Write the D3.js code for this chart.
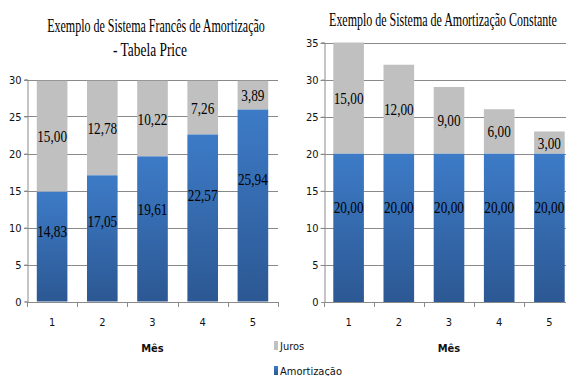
<!DOCTYPE html>
<html>
<head>
<meta charset="utf-8">
<script src="https://cdn.jsdelivr.net/npm/d3@7"></script>
<style>
  html, body { margin: 0; padding: 0; background: #fff; }
  svg { display: block; }
</style>
</head>
<body>
<svg id="chart" width="566" height="376"></svg>
<script>
// Meses (parcelas) e componentes de cada prestação
const meses = ["1", "2", "3", "4", "5"];

// Sistema Francês (Tabela Price)
const priceAmortizacao = [14.83, 17.05, 19.61, 22.57, 25.94];
const priceJuros = [15.00, 12.78, 10.22, 7.26, 3.89];

// Sistema de Amortização Constante (SAC)
const sacAmortizacao = [20.00, 20.00, 20.00, 20.00, 20.00];
const sacJuros = [15.00, 12.00, 9.00, 6.00, 3.00];

const priceTicks = [0, 5, 10, 15, 20, 25, 30];
const sacTicks = [0, 5, 10, 15, 20, 25, 30, 35];

const seriesNames = ["Juros", "Amortização"];

const svg = d3.select("#chart");
const fmt = v => d3.format(".2f")(v).replace(".", ",");

const defs = svg.append("defs");
const grad = defs.append("linearGradient")
  .attr("id", "azul").attr("x1", 0).attr("y1", 0).attr("x2", 0).attr("y2", 1);
grad.append("stop").attr("offset", "0%").attr("stop-color", "#3d7bc7");
grad.append("stop").attr("offset", "100%").attr("stop-color", "#2c5893");

const GRAY = "#c0c0c0";
const AXIS = "#8a8a8a";
const sansFont = "'Liberation Sans Narrow', 'DejaVu Sans Condensed', 'Liberation Sans', sans-serif";
const serifFont = "'Liberation Serif', 'DejaVu Serif', serif";

function drawChart(opts) {
  const { x0, x1, yBase, yTop, max, ticks, amort, juros, titleLines } = opts;
  const g = svg.append("g");

  const x = d3.scaleBand().domain(meses).range([x0, x1])
    .paddingInner(0.39).paddingOuter(0.195);
  const y = d3.scaleLinear().domain([0, max]).range([yBase, yTop]);

  // linhas de grade
  g.append("g").selectAll("line").data(ticks.filter(t => t > 0)).join("line")
    .attr("x1", x0 - 3).attr("x2", x1)
    .attr("y1", d => Math.round(y(d)) + 0.5).attr("y2", d => Math.round(y(d)) + 0.5)
    .attr("stroke", AXIS).attr("stroke-width", 1);

  // eixo Y
  const yAxis = d3.axisLeft(y).tickValues(ticks).tickSize(3).tickFormat(d3.format("d"));
  const ya = g.append("g").attr("transform", `translate(${Math.round(x0) + 0.5},0)`).call(yAxis);
  ya.select(".domain").attr("stroke", AXIS);
  ya.selectAll(".tick line").attr("stroke", AXIS);
  ya.selectAll(".tick text")
    .attr("font-family", sansFont).attr("font-size", 11).attr("fill", "#111")
    .attr("x", -6);

  // barras empilhadas
  const cols = g.append("g").selectAll("g").data(meses).join("g");
  cols.append("rect")
    .attr("x", d => x(d)).attr("width", x.bandwidth())
    .attr("y", (d, i) => y(amort[i] + juros[i]))
    .attr("height", (d, i) => y(amort[i]) - y(amort[i] + juros[i]))
    .attr("fill", GRAY);
  cols.append("rect")
    .attr("x", d => x(d)).attr("width", x.bandwidth())
    .attr("y", (d, i) => y(amort[i]))
    .attr("height", (d, i) => y(0) - y(amort[i]))
    .attr("fill", "url(#azul)");

  // rótulos de valores
  const label = (sel, fy, fv) => sel.append("text")
    .attr("transform", (d, i) => `translate(${x(d) + x.bandwidth() / 2},${fy(i)}) scale(0.78,1)`)
    .attr("text-anchor", "middle").attr("dy", "0.35em")
    .attr("font-family", serifFont).attr("font-size", 17).attr("fill", "#000")
    .text((d, i) => fmt(fv(i)));
  label(cols, i => y(amort[i] + juros[i] * 0.5), i => juros[i]);
  label(cols, i => y(amort[i] * 0.64), i => amort[i]);

  // eixo X
  g.append("line").attr("x1", x0).attr("x2", x1)
    .attr("y1", Math.round(yBase) + 0.5).attr("y2", Math.round(yBase) + 0.5)
    .attr("stroke", AXIS);
  const step = (x1 - x0) / meses.length;
  g.append("g").selectAll("line").data(d3.range(meses.length + 1)).join("line")
    .attr("x1", i => Math.round(x0 + i * step) + 0.5).attr("x2", i => Math.round(x0 + i * step) + 0.5)
    .attr("y1", Math.round(yBase)).attr("y2", Math.round(yBase) + 5)
    .attr("stroke", AXIS);
  g.append("g").selectAll("text").data(meses).join("text")
    .attr("x", d => x(d) + x.bandwidth() / 2).attr("y", yBase + 24)
    .attr("text-anchor", "middle")
    .attr("font-family", sansFont).attr("font-size", 11).attr("fill", "#111")
    .text(d => d);
  g.append("text")
    .attr("x", x0 + 5 * step / 2).attr("y", yBase + 50)
    .attr("text-anchor", "middle")
    .attr("font-family", sansFont).attr("font-size", 11).attr("font-weight", "bold").attr("fill", "#111")
    .text("Mês");

  // título: fonte serifada estreitada até a largura desejada
  titleLines.forEach(t => {
    const tt = g.append("text")
      .attr("text-anchor", "middle")
      .attr("font-family", serifFont).attr("font-size", 19).attr("fill", "#000")
      .text(t.text);
    const natural = tt.node().getComputedTextLength();
    tt.attr("transform", `translate(${t.cx},${t.y}) scale(${t.w / natural},1)`);
  });
}

drawChart({
  x0: 27, x1: 278, yBase: 301.5, yTop: 79.5, max: 30, ticks: priceTicks,
  amort: priceAmortizacao, juros: priceJuros,
  titleLines: [
    { text: "Exemplo de Sistema Francês de Amortização", cx: 156, y: 32, w: 218 },
    { text: "- Tabela Price", cx: 150, y: 56, w: 74 }
  ]
});

drawChart({
  x0: 323.5, x1: 574.5, yBase: 302, yTop: 42.5, max: 35, ticks: sacTicks,
  amort: sacAmortizacao, juros: sacJuros,
  titleLines: [
    { text: "Exemplo de Sistema de Amortização Constante", cx: 443, y: 26, w: 228 }
  ]
});

// legenda
const legend = svg.append("g");
const legendFill = [GRAY, "url(#azul)"];
const leg = legend.selectAll("g").data(seriesNames).join("g")
  .attr("transform", (d, i) => `translate(274,${341 + i * 25})`);
leg.append("rect").attr("width", 4).attr("height", 9).attr("fill", (d, i) => legendFill[i]);
leg.append("text").attr("x", 6).attr("y", 8.5)
  .attr("font-family", sansFont).attr("font-size", 11).attr("fill", "#111")
  .text(d => d);
</script>
</body>
</html>
